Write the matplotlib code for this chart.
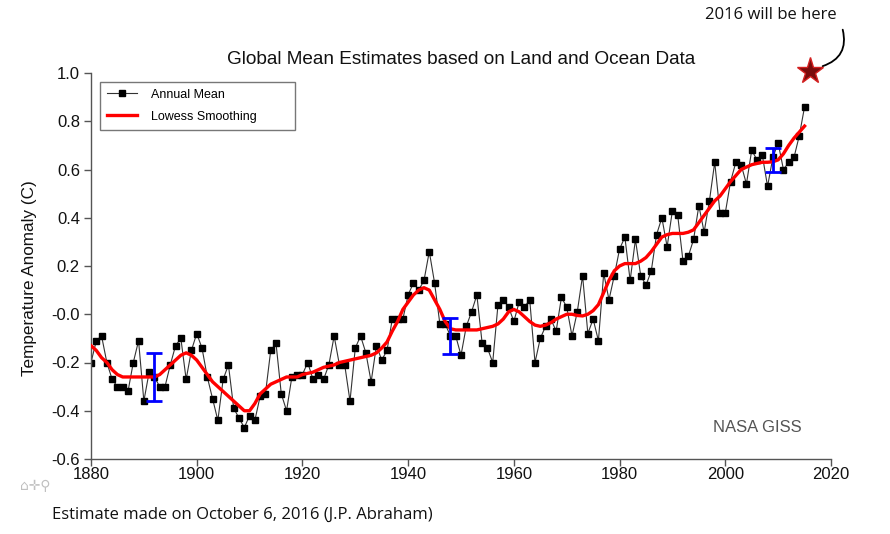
import numpy as np
import matplotlib
matplotlib.use("Agg")
import matplotlib.pyplot as plt

years = list(range(1880, 2016))

annual_mean = [
    -0.20, -0.11, -0.09, -0.20, -0.27, -0.30, -0.30, -0.32, -0.20, -0.11,
    -0.36, -0.24, -0.26, -0.30, -0.30, -0.21, -0.13, -0.10, -0.27, -0.15,
    -0.08, -0.14, -0.26, -0.35, -0.44, -0.27, -0.21, -0.39, -0.43, -0.47,
    -0.42, -0.44, -0.34, -0.33, -0.15, -0.12, -0.33, -0.40, -0.26, -0.25,
    -0.25, -0.20, -0.27, -0.25, -0.27, -0.21, -0.09, -0.21, -0.21, -0.36,
    -0.14, -0.09, -0.16, -0.28, -0.13, -0.19, -0.15, -0.02, -0.02, -0.02,
    0.08, 0.13, 0.10, 0.14, 0.26, 0.13, -0.04, -0.04, -0.09, -0.09,
    -0.17, -0.05, 0.01, 0.08, -0.12, -0.14, -0.20, 0.04, 0.06, 0.03,
    -0.03, 0.05, 0.03, 0.06, -0.20, -0.10, -0.05, -0.02, -0.07, 0.07,
    0.03, -0.09, 0.01, 0.16, -0.08, -0.02, -0.11, 0.17, 0.06, 0.16,
    0.27, 0.32, 0.14, 0.31, 0.16, 0.12, 0.18, 0.33, 0.40, 0.28,
    0.43, 0.41, 0.22, 0.24, 0.31, 0.45, 0.34, 0.47, 0.63, 0.42,
    0.42, 0.55, 0.63, 0.62, 0.54, 0.68, 0.64, 0.66, 0.53, 0.65,
    0.71, 0.60, 0.63, 0.65, 0.74, 0.86,
]

lowess = [
    -0.13, -0.15, -0.18, -0.20, -0.23, -0.25, -0.26, -0.26, -0.26, -0.26,
    -0.26, -0.26, -0.26, -0.25, -0.23, -0.21, -0.19, -0.17, -0.16, -0.17,
    -0.19, -0.22, -0.25, -0.28, -0.30, -0.32, -0.34, -0.36, -0.38, -0.40,
    -0.40, -0.37, -0.33, -0.31, -0.29, -0.28, -0.27, -0.26, -0.26, -0.26,
    -0.25, -0.245, -0.24, -0.23, -0.22, -0.215, -0.21, -0.20, -0.195, -0.19,
    -0.185, -0.18, -0.175, -0.17, -0.16, -0.14, -0.115, -0.07, -0.03, 0.02,
    0.05, 0.08, 0.10, 0.11, 0.10, 0.06, 0.02, -0.03, -0.06, -0.065,
    -0.065, -0.065, -0.065, -0.065, -0.06, -0.055, -0.05, -0.04, -0.02, 0.01,
    0.02, 0.01, -0.01, -0.03, -0.045, -0.05, -0.045, -0.035, -0.02, -0.01,
    0.00, 0.00, -0.005, -0.007, 0.00, 0.015, 0.04, 0.09, 0.14, 0.18,
    0.20, 0.21, 0.21, 0.21, 0.22, 0.235, 0.26, 0.29, 0.32, 0.33,
    0.335, 0.335, 0.335, 0.34, 0.35, 0.38, 0.41, 0.44, 0.47, 0.49,
    0.52, 0.55, 0.575, 0.60, 0.61, 0.62, 0.625, 0.63, 0.63, 0.632,
    0.64, 0.665, 0.70, 0.73, 0.755, 0.78,
]

# uncertainty bars
err_years = [1892, 1948, 2009]
err_center = [-0.26, -0.09, 0.64]
err_half = [0.10, 0.075, 0.05]

# 2016 estimate marker
star_year = [2016]
star_value = [1.01]

yticks = [-0.6, -0.4, -0.2, 0.0, 0.2, 0.4, 0.6, 0.8, 1.0]
ytick_labels = ["-0.6", "-0.4", "-0.2", "-0.0", "0.2", "0.4", "0.6", "0.8", "1.0"]
xticks = [1880, 1900, 1920, 1940, 1960, 1980, 2000, 2020]

plt.rcParams['font.family'] = ['Liberation Sans', 'DejaVu Sans']

W, H = 890, 534
fig = plt.figure(figsize=(W / 100, H / 100), dpi=100)
ax = fig.add_axes([91 / W, 1 - 459 / H, 740 / W, 386 / H])

ax.plot(years, annual_mean, color='#333333', lw=0.8, marker='s', ms=4.5,
        mfc='black', mec='black', label='Annual Mean', zorder=2)
ax.plot(years, lowess, color='red', lw=2.4, label='Lowess Smoothing', zorder=3)
ax.errorbar(err_years, err_center, yerr=err_half, fmt='none', ecolor='blue',
            elinewidth=2, capsize=6, capthick=2, zorder=4)
ax.plot(star_year, star_value, marker='*', ms=20, mfc='#7a0c0c', mec='#d42020',
        mew=1, clip_on=False, zorder=5)

ax.set_xlim(1880, 2020)
ax.set_ylim(-0.6, 1.0)
ax.set_xticks(xticks)
ax.set_yticks(yticks)
ax.set_yticklabels(ytick_labels)
for s in ['top', 'right']:
    ax.spines[s].set_visible(False)
for s in ['left', 'bottom']:
    ax.spines[s].set_color('#555555')
    ax.spines[s].set_linewidth(1)
ax.tick_params(axis='both', direction='out', length=5, width=1, color='#555555',
               labelsize=12, labelcolor='#111111')
ax.tick_params(axis='x', pad=1)
ax.tick_params(axis='y', pad=3)

leg = ax.legend(loc='upper left', bbox_to_anchor=(100 / W, 1 - 82 / H - 0.01, 195 / W, 0.01),
                bbox_transform=fig.transFigure, mode='expand', fontsize=9,
                frameon=True, fancybox=False, borderpad=0.55, labelspacing=0.8,
                handlelength=2.4, handletextpad=1.1, borderaxespad=0)
leg.get_frame().set_edgecolor('#555555')
leg.get_frame().set_linewidth(1)

fig.text(461 / W, 1 - 60 / H, 'Global Mean Estimates based on Land and Ocean Data',
         ha='center', va='center', fontsize=13.7, color='#111111')
fig.text(30 / W, 1 - 278 / H, 'Temperature Anomaly (C)', rotation=90,
         ha='center', va='center', fontsize=12.3, color='#111111')
fig.text(757 / W, 1 - 427 / H, 'NASA GISS', ha='center', va='center',
         fontsize=12, color='#555555')

fig.text(771 / W, 1 - 15 / H, '2016 will be here', ha='center', va='center',
         fontsize=12, family=['Open Sans', 'DejaVu Sans'], color='#111111')
ax.annotate('', xy=(820, H - 67), xycoords='figure pixels',
            xytext=(842, H - 27), textcoords='figure pixels',
            arrowprops=dict(arrowstyle='-', color='black', lw=1.3,
                            connectionstyle='arc3,rad=-0.5'))

fig.text(242 / W, 1 - 515 / H, 'Estimate made on October 6, 2016 (J.P. Abraham)',
         ha='center', va='center', fontsize=12, family=['Open Sans', 'DejaVu Sans'],
         color='#111111')
fig.text(20 / W, 1 - 486 / H, '\u2302\u271b\u26b2', ha='left', va='center',
         fontsize=10, family=['DejaVu Sans'], color='#c0c0c0')

fig.savefig('out.png', dpi=100)
